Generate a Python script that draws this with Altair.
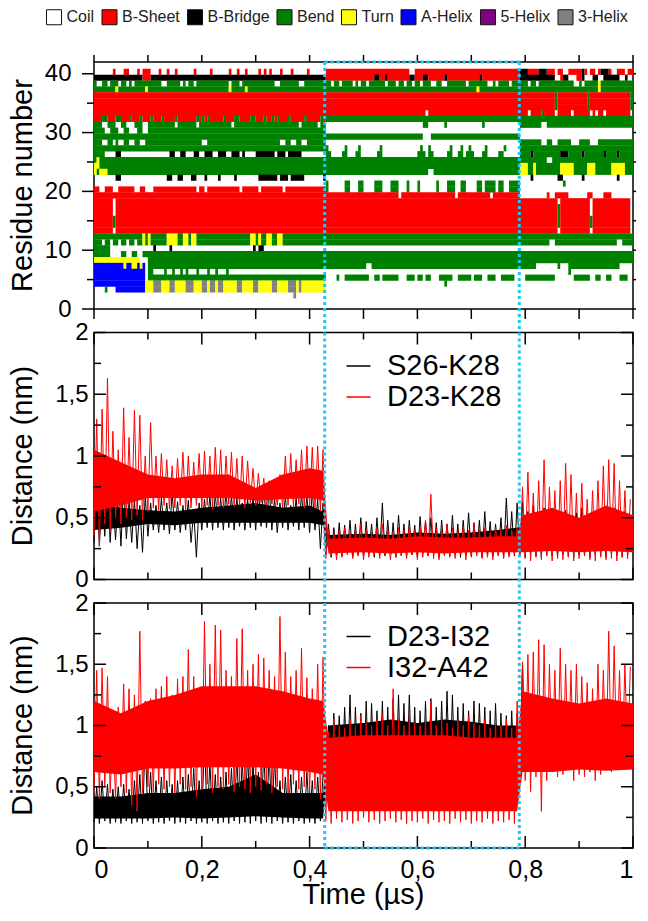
import re
import altair as alt
import pandas as pd

FONT = "Liberation Sans"

# ---------------- geometry ----------------
W = 539
H1, H2, H3 = 247, 247, 245
SP = 23.5

# ---------------- texts ----------------
RES_TITLE = "Residue number"
DIST_TITLE = "Distance (nm)"
TIME_TITLE = "Time (µs)"

# ---------------- axis tick values ----------------
TIME_MAJOR = [0, 0.2, 0.4, 0.6, 0.8, 1.0]
TIME_MINOR = [0.1, 0.3, 0.5, 0.7, 0.9]
TIME_ALL = [0, 0.1, 0.2, 0.3, 0.4, 0.5, 0.6, 0.7, 0.8, 0.9, 1.0]
RES_MAJOR = [0, 10, 20, 30, 40]
RES_MINOR = [5, 15, 25, 35]
RES_ALL = [0, 5, 10, 15, 20, 25, 30, 35, 40]
DIST_MAJOR = [0, 0.5, 1, 1.5, 2]
DIST_MINOR = [0.25, 0.75, 1.25, 1.75]

# highlighted time window (µs)
WINDOW = [0.428, 0.789]

# ---------------- DSSP ----------------
STATES = ["Coil", "B-Sheet", "B-Bridge", "Bend", "Turn", "A-Helix", "5-Helix", "3-Helix"]
STATE_COLORS = ["#ffffff", "#ff0000", "#000000", "#008000", "#ffff00", "#0000ff", "#800080", "#808080"]
CODE = {"W": "Coil", "R": "B-Sheet", "K": "B-Bridge", "G": "Bend", "Y": "Turn",
        "B": "A-Helix", "P": "5-Helix", "H": "3-Helix"}
BIN = 0.005                 # µs per DSSP bin
REGION_BINS = [86, 72, 42]  # bins before / inside / after the window

# residue -> run-length strings (before window, inside, after)
DSSP = {
    40: ("7W1R3W2R3W1R1W3R3W1R2W1R2W1R6W1R5W1R6W1R2W1R2W1R4W1R1W1R1W1R3W1R3W1R5W1R6W",
         "31R2W39R", "3K4R3K3R1W2R2W5R1K1R1W2R1W1R3K1R2W3R1W2R"),
    39: ("18K3R65K", "18R2K2R1K8R2K3R2K6R1K12R1K14R", "13K2W1R2K3W2R1K3W2K2W6K2W1K3W"),
    38: ("1G2W2G1W3G1W2G1W1G1W10G2W5G1W1G1W2G1W12G1W3G1W12G2W7G2W8G",
         "2G1W2G1W4G1W1G1W2G1W6G1W3G1W2G1W2G1W2G1W3G2W2G2W2G5G1W7G2W1G1W4G1W3G",
         "3G1W2G1W13G2W1G1W5G1Y12G"),
    37: ("8G1Y10G1Y30G1Y5G1Y29G", "56G1Y15G", "29G1Y12G"),
    36: ("86R", "72R", "13R1G11R1G15R1G"),
    35: ("86R", "72R", "13R1G11R1G15R1G"),
    34: ("86R", "72R", "13R1G11R1G15R1G"),
    33: ("86R", "37R1W34R", "3R1W4R1G4R1W5R1W6R1W1R1W2R1W9R1W"),
    32: ("3R2G3R2G3R1G3R1G3R1G3R1G4R1G7R1G1R1G1R1G5R1G3R2G4R2G3R1G2R1G1R1G3R1G5R1G5R1G3R",
         "72G", "42G"),
    31: ("3G2W3G2W2G3W3G2W10G1W7G1W12G1W24G1W6G1W3G", "36W2G6W1G13W1G13W", "8G2W32G"),
    30: ("4G2W3G2W2G3W2G2W66G", "72W", "42W"),
    29: ("86G", "36G3W33G", "42W"),
    28: ("3G2W2G1W1G2W2G2W2G2W21G2W27G2W2G2W2G2W10G", "72W", "8G2W2G2W5G3W4G3W13G"),
    27: ("86G", "1G6W1G4W1G7W1G14W1G2W1G7W1G3W1G2W1G5W1G6W1G3W", "42G"),
    26: ("4G4W2K18W2K2W2K3W2K2W3K2W3K2W3K1W1K4W7K1W3K1W5K10W",
         "2G4W2G3W2G6W2G13W3G1W2G5W2G2W2G1W3G3W2G4W2G2W", "4G1K10G3K5G1K7G1K4G1K5G"),
    25: ("1G1Y84G", "72G", "10G2W30G"),
    24: ("2Y84G", "72G", "3Y2G1Y9G5Y5G3Y6G5Y3G2Y"),
    23: ("1Y1G3Y81G", "38G2W32G", "3Y2G1Y9G5Y5G3Y6G5Y3G2Y"),
    22: ("8W2K17W2K2W2K3W2K3W1K4W1K5W1K8W7K1W3K1W5K7W1K2W", "72W", "4W1K9W2K7W1K12W1K5W"),
    21: ("86W", "1G6W2G3W2G4W3G3W3G3W1G3W1G6W1G3W3G2W2G4W2G1W4G1W2G2W2G", "16W1G25W"),
    20: ("2R2W3R2W6R2W2R3W16R1W2R1W12R1W6R1W8R1W17R",
         "1G6W2G3W2G4W3G3W3G3W1G3W1G6W1G3W3G2W2G4W2G1W4G1W2G2W2G", "42W"),
    19: ("86R", "27R1W20R1W12R1W10R", "10W1R2W5R7W2R4W3R8W"),
    18: ("7R1W78R", "72R", "14R1W11R1W14R1W"),
    17: ("7R1W78R", "72R", "14R1G11R1W14R1W"),
    16: ("7R1W78R", "72R", "14R1G11R1W14R1W"),
    15: ("7R1G78R", "72R", "14R1G11R1G14R1W"),
    14: ("7R1G78R", "72R", "14R1G11R1G14R1W"),
    13: ("7R1W78R", "72R", "14R1W11R1W14R1W"),
    12: ("18G1Y1G1Y6G4Y2G2Y1G2Y20G2Y1G1Y2G2Y2G2Y18G", "72G", "42G"),
    11: ("3G1W2G1W2G1W2G1W2G1W2G1Y1G1Y6G4Y2G2Y1G2Y20G2Y1G1Y2G2Y2G2Y18G", "72G", "11G2W23G2W4G"),
    10: ("6G16W1K5W1K30W1K1W2K21W", "72W", "42W"),
    9: ("6G4W2G2W2G2W1G67G", "72G", "42G"),
    8: ("17Y3W66G", "72G", "42G"),
    7: ("11B1Y2B2Y1B1Y1B1W66G", "15G2W55G", "6G8W1G3W19G5W"),
    6: ("19B1W2G4W1G2W1G2W1G1W1G3W1G3W1G2W1G3W1G36W", "72W", "18W1G23W"),
    5: ("19B1W66G", "4W1G2W9G2W2G1W6G3W3G1W2G1W2G3W5G2W5G1W3G2W3G2W5G2W",
        "2W11G7W6G2W2G2W2G3W3G2W"),
    4: ("19B3Y3H3Y2H4Y3H3Y2H1Y2H1Y2H5Y2H4Y2H5Y2H4Y3H1Y1H9Y", "44W1G27W", "42W"),
    3: ("4W1G3W11B3Y3H3Y2H4Y3H3Y2H1Y2H1Y2H5Y2H4Y2H5Y2H4Y3H1Y1H9Y", "72W", "42W"),
    2: ("74W1H11W", "72W", "42W"),
}

# ---------------- distances (nm), per 0.01 µs: low / high excursion ----------------
S26K28_HI = [0.80,0.72,0.78,0.65,0.70,0.79,0.62,0.65,0.60,0.68, 0.62,0.60,0.66,0.62,0.70,0.63,0.60,0.64,0.55,0.62,
             0.65,0.68,0.70,0.66,0.72,0.68,0.66,0.62,0.65,0.68, 0.72,0.76,0.75,0.66,0.62,0.68,0.60,0.66,0.70,0.68,
             0.72,0.65,0.62,
             0.45,0.42,0.46,0.44,0.48,0.45,0.50,0.47,0.45,0.50, 0.62,0.48,0.46,0.52,0.45,0.48,0.44,0.51,0.47,0.50,
             0.46,0.48,0.45,0.52,0.45,0.48,0.54,0.46,0.48,0.55, 0.47,0.45,0.50,0.66,0.55,0.62,
             0.63,0.55,0.60,0.52,0.58,0.50,0.55,0.52,0.56,0.50, 0.54,0.58,0.52,0.50,0.55,0.52,0.50,0.58,0.51,0.55,0.50]
S26K28_LO = [0.30,0.27,0.35,0.30,0.32,0.27,0.33,0.30,0.25,0.22, 0.35,0.40,0.38,0.40,0.37,0.40,0.38,0.40,0.30,0.18,
             0.40,0.42,0.40,0.42,0.40,0.42,0.40,0.43,0.40,0.42, 0.40,0.43,0.42,0.40,0.38,0.42,0.40,0.43,0.40,0.42,
             0.38,0.40,0.25,
             0.20,0.18,0.20,0.19,0.21,0.18,0.20,0.19,0.21,0.18, 0.20,0.19,0.21,0.18,0.20,0.19,0.20,0.18,0.21,0.19,
             0.20,0.18,0.21,0.19,0.20,0.18,0.20,0.19,0.21,0.18, 0.20,0.19,0.20,0.18,0.20,0.19,
             0.19,0.18,0.20,0.19,0.18,0.20,0.19,0.18,0.20,0.19, 0.18,0.20,0.19,0.18,0.20,0.19,0.18,0.20,0.19,0.18,0.20]
D23K28_HI = [1.30,1.38,1.63,1.20,1.05,1.39,1.15,1.37,1.33,1.00, 1.27,1.00,1.02,0.97,0.92,0.98,1.03,1.00,0.95,1.02,
             1.04,1.00,1.07,1.05,1.00,1.03,0.98,1.00,0.96,0.90, 0.86,0.82,0.80,0.78,0.85,1.00,1.02,0.97,1.05,1.08,
             1.07,1.08,1.05,
             0.40,0.38,0.40,0.42,0.38,0.40,0.45,0.40,0.38,0.42, 0.45,0.40,0.38,0.42,0.40,0.44,0.40,0.43,0.48,0.69,
             0.42,0.40,0.45,0.42,0.40,0.43,0.40,0.45,0.40,0.42, 0.38,0.42,0.40,0.44,0.40,0.42,
             0.75,0.87,0.70,0.80,0.97,0.75,0.72,0.80,0.94,0.85, 0.70,0.78,0.65,0.72,0.80,0.92,0.97,0.94,0.80,0.72,0.65]
D23K28_LO = [0.35,0.27,0.45,0.40,0.50,0.45,0.50,0.48,0.52,0.48, 0.55,0.58,0.56,0.60,0.57,0.58,0.60,0.56,0.58,0.60,
             0.58,0.60,0.57,0.60,0.58,0.61,0.59,0.60,0.58,0.62, 0.60,0.62,0.60,0.61,0.60,0.58,0.60,0.59,0.61,0.58,
             0.60,0.58,0.55,
             0.17,0.19,0.16,0.18,0.20,0.17,0.19,0.16,0.18,0.20, 0.17,0.19,0.16,0.18,0.19,0.17,0.20,0.16,0.18,0.19,
             0.17,0.16,0.19,0.18,0.17,0.20,0.16,0.18,0.19,0.17, 0.18,0.16,0.19,0.17,0.18,0.20,
             0.20,0.17,0.15,0.18,0.16,0.19,0.15,0.17,0.16,0.18, 0.15,0.17,0.19,0.16,0.15,0.18,0.16,0.17,0.15,0.18,0.17]
D23I32_HI = [0.50,0.55,0.52,0.48,0.50,0.52,0.48,0.55,0.60,0.90, 0.62,0.55,0.58,0.55,0.52,0.55,0.58,0.60,0.65,0.55,
             0.91,0.70,0.60,0.58,0.62,0.65,0.75,0.72,0.78,0.70, 0.62,0.80,0.78,0.75,0.55,0.58,0.60,0.55,0.58,0.62,
             0.55,0.58,0.60,
             1.00,1.10,1.08,1.15,1.25,1.15,1.10,1.20,1.18,1.12, 1.20,1.15,1.22,1.25,1.18,1.25,1.15,1.12,1.20,1.22,
             1.15,1.20,1.28,1.25,1.15,1.18,1.12,1.20,1.18,1.15, 1.12,1.18,1.10,1.08,1.12,1.10,
             1.50,1.00,0.95,1.05,0.98,1.02,0.95,1.00,1.05,0.97, 1.00,0.95,1.02,1.08,0.98,1.00,0.95,1.02,0.98,1.00,0.96]
D23I32_LO = [0.21,0.20,0.22,0.20,0.21,0.20,0.22,0.20,0.21,0.20, 0.22,0.20,0.21,0.20,0.22,0.20,0.21,0.20,0.22,0.20,
             0.21,0.20,0.22,0.20,0.21,0.20,0.22,0.20,0.21,0.20, 0.22,0.20,0.21,0.20,0.22,0.20,0.21,0.20,0.22,0.20,
             0.21,0.20,0.22,
             0.50,0.55,0.48,0.52,0.56,0.50,0.54,0.48,0.52,0.55, 0.50,0.53,0.48,0.55,0.50,0.52,0.56,0.48,0.53,0.50,
             0.55,0.49,0.52,0.50,0.54,0.48,0.52,0.55,0.50,0.53, 0.48,0.52,0.55,0.50,0.49,0.52,
             0.70,0.68,0.72,0.70,0.66,0.70,0.72,0.68,0.70,0.72, 0.68,0.70,0.66,0.72,0.70,0.68,0.72,0.70,0.66,0.70,0.72]
I32A42_HI = [1.45,1.47,1.40,1.00,1.15,1.34,1.30,1.25,1.77,1.20, 1.22,1.30,1.32,1.40,1.25,1.38,1.40,1.62,1.40,1.30,
             1.85,1.50,1.82,1.78,1.45,1.40,1.71,1.79,1.45,1.50, 1.58,1.55,1.45,1.40,1.89,1.60,1.40,1.45,1.63,1.39,
             1.30,1.50,1.56,
             0.95,1.05,1.00,0.98,1.05,1.00,1.08,1.02,1.00,1.05, 1.10,1.00,1.30,1.05,1.00,1.08,1.02,1.00,1.05,1.20,
             1.00,1.05,1.02,0.98,1.05,1.00,1.08,1.02,1.00,1.05, 0.98,1.02,1.00,1.05,0.98,1.20,
             1.52,1.58,1.60,1.70,1.66,1.50,1.45,1.63,1.50,1.45, 1.50,1.40,1.35,1.30,1.50,1.45,1.77,1.65,1.45,1.50,1.48]
I32A42_LO = [0.45,0.40,0.50,0.45,0.40,0.50,0.45,0.35,0.30,0.45, 0.50,0.45,0.52,0.48,0.50,0.45,0.52,0.48,0.50,0.42,
             0.48,0.52,0.45,0.50,0.48,0.52,0.46,0.50,0.48,0.45, 0.50,0.47,0.52,0.45,0.50,0.48,0.45,0.52,0.48,0.50,
             0.45,0.48,0.40,
             0.22,0.20,0.24,0.21,0.23,0.20,0.22,0.25,0.21,0.23, 0.20,0.22,0.24,0.21,0.23,0.20,0.22,0.21,0.24,0.20,
             0.23,0.21,0.22,0.20,0.24,0.21,0.23,0.20,0.22,0.21, 0.24,0.20,0.22,0.21,0.23,0.20,
             0.60,0.55,0.46,0.58,0.30,0.55,0.62,0.58,0.60,0.65, 0.55,0.60,0.58,0.62,0.55,0.60,0.65,0.62,0.70,0.68,0.72]

# dense core of each trace at coarse knots
CORE_T = [0.0, 0.05, 0.10, 0.15, 0.20, 0.25, 0.30, 0.35, 0.40, 0.425,
          0.435, 0.50, 0.55, 0.60, 0.65, 0.70, 0.75, 0.785,
          0.795, 0.85, 0.90, 0.95, 1.0]
S26K28_CORE_LO = [0.40,0.42,0.45,0.44,0.46,0.46,0.46,0.46,0.46,0.44, 0.24,0.25,0.24,0.25,0.24,0.25,0.25,0.25, 0.23,0.24,0.23,0.24,0.23]
S26K28_CORE_HI = [0.62,0.58,0.56,0.55,0.58,0.60,0.62,0.58,0.60,0.55, 0.36,0.37,0.36,0.38,0.37,0.38,0.40,0.42, 0.45,0.42,0.44,0.42,0.40]
D23K28_CORE_LO = [0.55,0.60,0.66,0.66,0.66,0.66,0.64,0.65,0.66,0.64, 0.21,0.22,0.21,0.22,0.21,0.22,0.22,0.22, 0.22,0.23,0.22,0.23,0.22]
D23K28_CORE_HI = [1.05,0.95,0.85,0.82,0.85,0.85,0.74,0.85,0.90,0.88, 0.33,0.34,0.33,0.35,0.34,0.34,0.35,0.35, 0.52,0.58,0.50,0.60,0.52]
D23I32_CORE_LO = [0.24,0.24,0.24,0.25,0.24,0.25,0.26,0.25,0.24,0.24, 0.68,0.68,0.70,0.68,0.70,0.68,0.68,0.68, 0.75,0.75,0.75,0.75,0.75]
D23I32_CORE_HI = [0.42,0.42,0.45,0.45,0.48,0.50,0.60,0.45,0.45,0.45, 1.00,1.02,1.05,1.02,1.05,1.03,1.00,1.00, 0.95,0.95,0.95,0.95,0.95]
I32A42_CORE_LO = [0.62,0.60,0.65,0.65,0.66,0.66,0.66,0.65,0.62,0.60, 0.30,0.30,0.30,0.30,0.30,0.30,0.30,0.30, 0.62,0.62,0.64,0.63,0.64]
I32A42_CORE_HI = [1.20,1.10,1.20,1.25,1.32,1.32,1.32,1.28,1.22,1.20, 0.90,0.92,0.92,0.92,0.92,0.90,0.90,0.90, 1.28,1.22,1.18,1.22,1.18]

STEP = 0.01


# ---------------- build tables ----------------
def dssp_table():
    rows = []
    for res, regions in DSSP.items():
        seq = []
        for rle, n in zip(regions, REGION_BINS):
            s = []
            for cnt, c in re.findall(r"(\d+)([A-Z])", rle):
                s += [c] * int(cnt)
            if len(s) < n:
                s += [s[-1]] * (n - len(s))
            seq += s[:n]
        start = 0
        for i in range(1, len(seq) + 1):
            if i == len(seq) or seq[i] != seq[start]:
                if seq[start] != "W":
                    rows.append(dict(t0=start * BIN, t1=i * BIN, r0=res - 0.2, r1=res + 0.85,
                                     state=CODE[seq[start]]))
                start = i
    return pd.DataFrame(rows)


def trace_table(lo, hi, name):
    rows = []
    for i, (a, b) in enumerate(zip(lo, hi)):
        rows.append(dict(t=i * STEP, v=a, series=name))
        rows.append(dict(t=i * STEP + STEP / 2, v=b, series=name))
    return pd.DataFrame(rows)


def core_table(lo, hi):
    return pd.DataFrame(dict(t=CORE_T, lo=lo, hi=hi))


xs = alt.Scale(domain=[0, 1], nice=False, zero=False)
ys_res = alt.Scale(domain=[0, 42], nice=False, zero=False)
ys_dist = alt.Scale(domain=[0, 2], nice=False, zero=False)

CYAN = "#1ec8f5"
COMMA = "replace(datum.label, '.', ',')"


def xenc(field, show_axis, axis=alt.Undefined):
    if not show_axis:
        return alt.X(field, scale=xs, axis=None)
    return alt.X(field, scale=xs, title=None, axis=axis)


def yenc(field, scale, axis=alt.Undefined):
    return alt.Y(field, scale=scale, title=None, axis=axis)


def tick_layer(values, length, side, show_x, yscale, height, inward):
    d = pd.DataFrame({"v": values})
    base = alt.Chart(d).mark_rule(color="black", strokeWidth=1.5)
    sgn = 1 if inward else -1
    if side == "left":
        return base.encode(y=yenc("v:Q", yscale), x=alt.value(0), x2=alt.value(sgn * length))
    if side == "right":
        return base.encode(y=yenc("v:Q", yscale), x=alt.value(W), x2=alt.value(W - sgn * length))
    if side == "top":
        return base.encode(x=xenc("v:Q", show_x), y=alt.value(0), y2=alt.value(sgn * length))
    return base.encode(x=xenc("v:Q", show_x), y=alt.value(height), y2=alt.value(height - sgn * length))


def window_layers(height, show_x, ext_below, top_edge, bottom_edge):
    wd = pd.DataFrame({"t": WINDOW})
    sty = dict(color=CYAN, strokeWidth=3, strokeDash=[3, 3])
    layers = [alt.Chart(wd).mark_rule(**sty).encode(
        x=xenc("t:Q", show_x), y=alt.value(0), y2=alt.value(height + ext_below))]
    ed = pd.DataFrame({"t0": [WINDOW[0]], "t1": [WINDOW[1]]})
    if top_edge:
        layers.append(alt.Chart(ed).mark_rule(**sty).encode(
            x=xenc("t0:Q", show_x), x2="t1:Q", y=alt.value(0)))
    if bottom_edge:
        layers.append(alt.Chart(ed).mark_rule(**sty).encode(
            x=xenc("t0:Q", show_x), x2="t1:Q", y=alt.value(height)))
    return layers


def y_axis(values, pad, comma):
    kw = dict(values=values, ticks=False, domain=False, grid=False, labelFontSize=24,
              labelPadding=pad, labelFont=FONT, labelColor="black", format="~g")
    if comma:
        kw["labelExpr"] = COMMA
    return alt.Axis(**kw)


def y_title(text, height):
    return alt.Chart(pd.DataFrame({"label": [text]})).mark_text(
        angle=270, align="center", baseline="middle", fontSize=29, font=FONT, color="black"
    ).encode(text="label:N", x=alt.value(-71), y=alt.value(height / 2))


# ---------------- top panel ----------------
heat = alt.Chart(dssp_table()).mark_rect().encode(
    x=xenc("t0:Q", False), x2="t1:Q",
    y=yenc("r0:Q", ys_res, y_axis(RES_MAJOR, 23, False)),
    y2="r1:Q",
    color=alt.Color("state:N", scale=alt.Scale(domain=STATES, range=STATE_COLORS),
                    legend=alt.Legend(orient="none", legendX=-48, legendY=-53, direction="horizontal",
                                      columns=8, title=None, symbolType="square", symbolSize=225,
                                      symbolStrokeColor="#111", symbolStrokeWidth=1,
                                      labelFontSize=16, labelFont=FONT, labelColor="#222",
                                      labelOffset=4.5, columnPadding=4.5, padding=0)),
)
top_layers = [heat,
              tick_layer(RES_MAJOR, 12, "left", False, ys_res, H1, False),
              tick_layer(RES_MINOR, 7, "left", False, ys_res, H1, False),
              tick_layer(RES_ALL, 3, "right", False, ys_res, H1, False),
              tick_layer(TIME_ALL, 7, "top", False, ys_res, H1, False),
              tick_layer(TIME_ALL, 10, "bottom", False, ys_res, H1, False),
              y_title(RES_TITLE, H1)]
top_layers += window_layers(H1, False, SP, True, False)
top = alt.layer(*top_layers).properties(width=W, height=H1)


# ---------------- distance panels ----------------
def dist_panel(height, names, los, his, core_los, core_his, show_x):
    cs = alt.Scale(domain=names, range=["#000000", "#ff0000"])
    leg = alt.Legend(orient="none", legendX=250, legendY=19, title=None, symbolType="stroke",
                     symbolSize=576, symbolStrokeWidth=1.5, labelFontSize=29, labelFont=FONT,
                     labelColor="black", labelOffset=14, padding=0, rowPadding=1)
    xax = alt.Axis(values=TIME_MAJOR, ticks=False, domain=False, grid=False, labelFontSize=25,
                   labelPadding=9, labelFont=FONT, labelColor="black", format="~g",
                   labelExpr=COMMA)
    layers = []
    for i, (nm, col) in enumerate(zip(names, ["#000000", "#ff0000"])):
        area = alt.Chart(core_table(core_los[i], core_his[i])).mark_area(color=col, opacity=1).encode(
            x=xenc("t:Q", show_x, xax if i == 0 else alt.Undefined),
            y=yenc("lo:Q", ys_dist, y_axis(DIST_MAJOR, 6, True) if i == 0 else alt.Undefined),
            y2="hi:Q")
        line = alt.Chart(trace_table(los[i], his[i], nm)).mark_line(strokeWidth=1).encode(
            x=xenc("t:Q", show_x),
            y=yenc("v:Q", ys_dist),
            color=alt.Color("series:N", scale=cs, legend=leg))
        layers += [area, line]
    for vals, ln in ((DIST_MAJOR, 12), (DIST_MINOR, 7)):
        layers.append(tick_layer(vals, ln, "left", show_x, ys_dist, height, True))
        layers.append(tick_layer(vals, ln, "right", show_x, ys_dist, height, True))
    for vals, ln in ((TIME_MAJOR, 12), (TIME_MINOR, 7)):
        layers.append(tick_layer(vals, ln, "top", show_x, ys_dist, height, True))
        layers.append(tick_layer(vals, ln, "bottom", show_x, ys_dist, height, True))
    layers += window_layers(height, show_x, 0 if show_x else SP, False, show_x)
    layers.append(y_title(DIST_TITLE, height))
    if show_x:
        layers.append(alt.Chart(pd.DataFrame({"label": [TIME_TITLE]})).mark_text(
            align="center", baseline="alphabetic", fontSize=29, font=FONT, color="black"
        ).encode(text="label:N", x=alt.value(W / 2), y=alt.value(height + 56)))
    return alt.layer(*layers).properties(width=W, height=height)


mid = dist_panel(H2, ["S26-K28", "D23-K28"], [S26K28_LO, D23K28_LO], [S26K28_HI, D23K28_HI],
                 [S26K28_CORE_LO, D23K28_CORE_LO], [S26K28_CORE_HI, D23K28_CORE_HI], False)
bot = dist_panel(H3, ["D23-I32", "I32-A42"], [D23I32_LO, I32A42_LO], [D23I32_HI, I32A42_HI],
                 [D23I32_CORE_LO, I32A42_CORE_LO], [D23I32_CORE_HI, I32A42_CORE_HI], True)

chart = (alt.vconcat(top, mid, bot, spacing=SP, bounds="flush")
         .resolve_scale(color="independent", y="independent")
         .properties(padding=0)
         .configure(font=FONT)
         .configure_view(stroke="black", strokeWidth=1.5))

chart.save("out.html", embed_options={"renderer": "svg", "actions": False})
